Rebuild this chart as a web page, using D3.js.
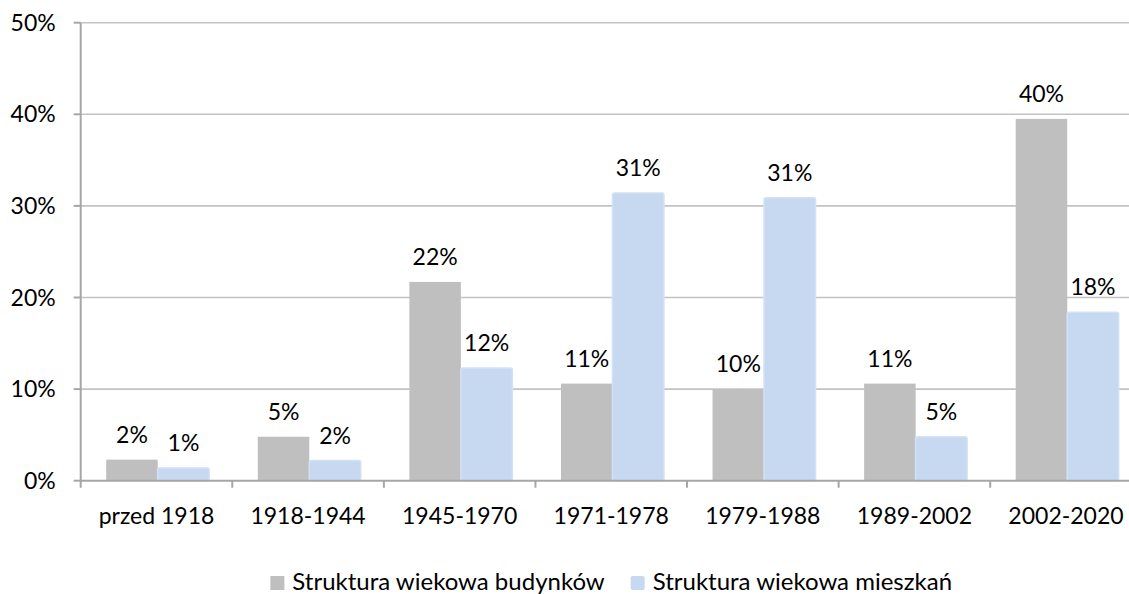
<!DOCTYPE html>
<html>
<head>
<meta charset="utf-8">
<script src="https://cdn.jsdelivr.net/npm/d3@7"></script>
<style>
  html, body { margin: 0; padding: 0; background: #fff; }
  svg { display: block; font-family: Lato, "Open Sans", sans-serif; }
</style>
</head>
<body>
<div id="chart"></div>
<script>
// Age structure of buildings vs. flats, per construction period.
const categories = ['przed 1918', '1918-1944', '1945-1970', '1971-1978', '1979-1988', '1989-2002', '2002-2020'];
const seriesNames = ['Struktura wiekowa budynków', 'Struktura wiekowa mieszkań'];
const buildings = [2.3, 4.8, 21.7, 10.6, 10.0, 10.6, 39.5];
const flats = [1.4, 2.2, 12.3, 31.4, 30.9, 4.8, 18.4];
const yTicks = [0, 10, 20, 30, 40, 50];

const COLORS = ['#bfbfbf', '#c6d9f1'];
const W = 1129, H = 594;
const FS = 23;
const plot = { left: 80.7, right: 1141.8, top: 22.7, bottom: 480.7 };

const svg = d3.select('#chart').append('svg')
  .attr('width', W).attr('height', H)
  .attr('viewBox', `0 0 ${W} ${H}`);

const x0 = d3.scaleBand().domain(categories).range([plot.left, plot.right]);
const x1 = d3.scaleBand().domain(seriesNames).range([25.5, 128.5]);
const y = d3.scaleLinear().domain([0, 50]).range([plot.bottom, plot.top]);

// gridlines (hairline grey, no frame on the right)
const grid = svg.append('g');
grid.selectAll('line').data(yTicks.filter((d) => d > 0)).join('line')
  .attr('x1', plot.left).attr('x2', plot.right)
  .attr('y1', (d) => y(d)).attr('y2', (d) => y(d))
  .attr('stroke', '#c3c3c3').attr('stroke-width', 1.6);

// y axis labels + ticks
const yax = svg.append('g');
yax.selectAll('line').data(yTicks).join('line')
  .attr('x1', plot.left - 7).attr('x2', plot.left)
  .attr('y1', (d) => y(d)).attr('y2', (d) => y(d))
  .attr('stroke', '#a6a6a6').attr('stroke-width', 2);
yax.selectAll('text').data(yTicks).join('text')
  .attr('x', plot.left - 25).attr('y', (d) => y(d) + 8)
  .attr('text-anchor', 'end')
  .attr('font-size', FS).attr('fill', '#000')
  .text((d) => `${d}%`);

// bars
const rows = categories.map((c, i) => ({ cat: c, vals: [buildings[i], flats[i]] }));
const groups = svg.append('g').selectAll('g').data(rows).join('g')
  .attr('transform', (d) => `translate(${x0(d.cat)},0)`);

groups.selectAll('rect').data((d) => d.vals.map((v, k) => ({ v, k }))).join('rect')
  .attr('x', (d) => x1(seriesNames[d.k]))
  .attr('width', x1.bandwidth())
  .attr('y', (d) => y(d.v))
  .attr('height', (d) => plot.bottom - y(d.v))
  .attr('fill', (d) => COLORS[d.k])
  .attr('stroke', (d) => (d.k === 1 ? '#d3e1f4' : 'none'))
  .attr('stroke-width', 1.5)
  .attr('rx', (d) => (d.k === 1 ? 2 : 0));

groups.selectAll('text').data((d) => d.vals.map((v, k) => ({ v, k }))).join('text')
  .attr('x', (d) => x1(seriesNames[d.k]) + x1.bandwidth() / 2)
  .attr('y', (d) => y(d.v) - 17)
  .attr('text-anchor', 'middle')
  .attr('font-size', FS).attr('fill', '#000')
  .text((d) => `${Math.round(d.v)}%`);

// axes lines
svg.append('line')
  .attr('x1', plot.left).attr('x2', plot.left)
  .attr('y1', plot.top).attr('y2', plot.bottom + 7)
  .attr('stroke', '#a6a6a6').attr('stroke-width', 2);
svg.append('line')
  .attr('x1', plot.left).attr('x2', plot.right)
  .attr('y1', plot.bottom).attr('y2', plot.bottom)
  .attr('stroke', '#a6a6a6').attr('stroke-width', 2);

// x ticks between categories
const xt = svg.append('g');
xt.selectAll('line').data(categories.slice(1)).join('line')
  .attr('x1', (d) => x0(d)).attr('x2', (d) => x0(d))
  .attr('y1', plot.bottom).attr('y2', plot.bottom + 7)
  .attr('stroke', '#a6a6a6').attr('stroke-width', 2);
xt.selectAll('text').data(categories).join('text')
  .attr('x', (d) => x0(d) + x0.bandwidth() / 2)
  .attr('y', 524)
  .attr('text-anchor', 'middle')
  .attr('font-size', FS).attr('fill', '#000')
  .text((d) => d);

// legend, centred on the plot
const legend = svg.append('g');
const items = legend.selectAll('g').data(seriesNames).join('g');
items.append('rect')
  .attr('width', 14).attr('height', 14)
  .attr('y', 576)
  .attr('fill', (d, i) => COLORS[i])
  .attr('rx', (d, i) => (i === 1 ? 2 : 0));
items.append('text')
  .attr('x', 22).attr('y', 590)
  .attr('font-size', 24).attr('fill', '#000')
  .text((d) => d);
const widths = [];
items.each(function () {
  widths.push(22 + d3.select(this).select('text').node().getComputedTextLength());
});
const gap = 26;
let off = (plot.left + plot.right) / 2 - (d3.sum(widths) + gap) / 2;
items.attr('transform', (d, i) => {
  const tx = off;
  off += widths[i] + gap;
  return `translate(${tx},0)`;
});
</script>
</body>
</html>
